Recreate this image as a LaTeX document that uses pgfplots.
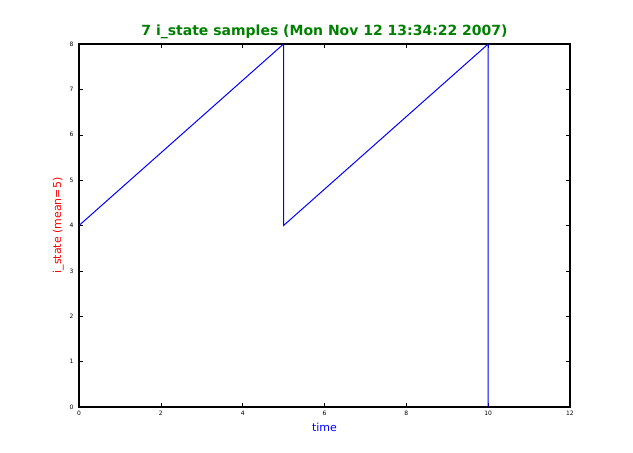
\documentclass[border=0pt]{standalone}
\usepackage{pgfplots}
\pgfplotsset{compat=1.18}
\usepackage{fontspec}
\setmainfont{DejaVu Sans}
\definecolor{mplgreen}{HTML}{008000}
\begin{document}
\begin{tikzpicture}
\begin{axis}[
  scale only axis,
  width=491pt, height=363pt,
  xmin=0, xmax=12, ymin=0, ymax=8,
  xtick={0,2,...,12}, ytick={0,1,...,8},
  tick align=inside,
  major tick length=4pt,
  axis line style={line width=1.2pt},
  tick style={black, line width=0.5pt},
  tick label style={font=\fontsize{6}{7}\selectfont},
  /pgf/number format/assume math mode=true,
  xticklabel style={yshift=-1pt},
  yticklabel style={xshift=-2pt},
  title={7 i\_state samples (Mon Nov 12 13:34:22 2007)},
  title style={font=\fontsize{14}{16}\selectfont\bfseries, text=mplgreen, yshift=-4pt},
  xlabel={time},
  ylabel={i\_state (mean=5)},
  xlabel style={font=\fontsize{11}{13}\selectfont, text=blue, yshift=0pt},
  ylabel style={font=\fontsize{11}{13}\selectfont, text=red, yshift=-1pt},
]
\addplot[blue, line width=1pt] coordinates {(0,4) (5,8) (5,4) (10,8) (10,0)};
\end{axis}
\path (current axis.south west) ++(-79pt,-46pt) rectangle ++(633pt,453pt);
\end{tikzpicture}
\end{document}
